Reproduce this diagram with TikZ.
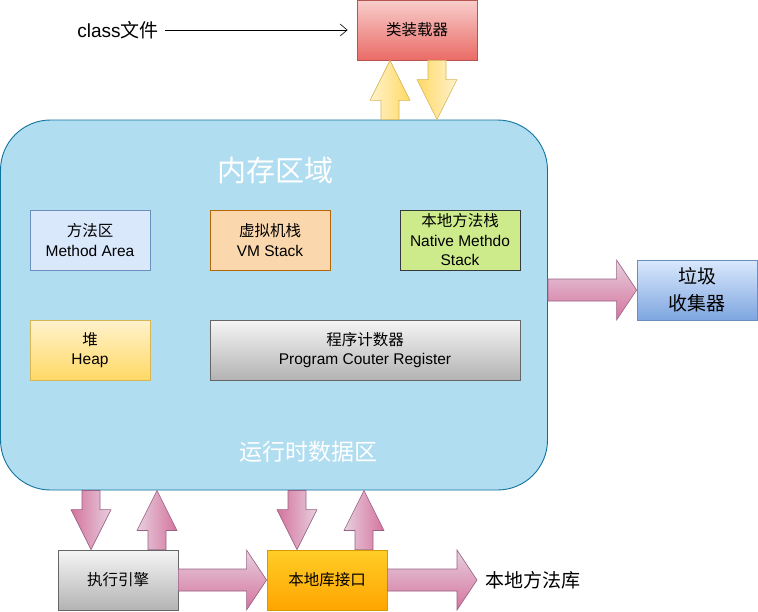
\documentclass[tikz,border=0pt]{standalone}
\usepackage{fontspec}
\setmainfont{Liberation Sans}
\newfontfamily\cjk{Noto Sans CJK SC}
\usetikzlibrary{arrows.meta,positioning,calc}

\newcommand{\zh}[1]{{\cjk #1}}

\definecolor{memfill}{HTML}{B1DDF0}
\definecolor{memline}{HTML}{10739E}
\definecolor{bluefill}{HTML}{DAE8FC}
\definecolor{bluedark}{HTML}{7EA6E0}
\definecolor{blueline}{HTML}{6C8EBF}
\definecolor{orangefill}{HTML}{FAD7AC}
\definecolor{orangeline}{HTML}{B46504}
\definecolor{greenfill}{HTML}{CDEB8B}
\definecolor{greenline}{HTML}{36393D}
\definecolor{yellowlight}{HTML}{FFF2CC}
\definecolor{yellowdark}{HTML}{FFD966}
\definecolor{yellowline}{HTML}{D6B656}
\definecolor{graylight}{HTML}{F5F5F5}
\definecolor{graydark}{HTML}{B3B3B3}
\definecolor{grayline}{HTML}{666666}
\definecolor{redlight}{HTML}{F8CECC}
\definecolor{reddark}{HTML}{EA6B66}
\definecolor{redline}{HTML}{B85450}
\definecolor{goldlight}{HTML}{FFCD28}
\definecolor{golddark}{HTML}{FFA500}
\definecolor{goldline}{HTML}{D79B00}
\definecolor{pinklight}{HTML}{E6D0DE}
\definecolor{pinkdark}{HTML}{D5739D}
\definecolor{pinkline}{HTML}{996185}

% fat arrow: style, from, to, half body, half head, head length
\newcommand{\blockarrow}[6]{%
  \coordinate (ba-s) at (#2);
  \coordinate (ba-t) at (#3);
  \coordinate (ba-m) at ($(ba-t)!#6!(ba-s)$);
  \path[#1] ($(ba-s)!#4!90:(ba-t)$) -- ($(ba-m)!#4!90:(ba-t)$)
    -- ($(ba-m)!#5!90:(ba-t)$) -- (ba-t) -- ($(ba-m)!#5!-90:(ba-t)$)
    -- ($(ba-m)!#4!-90:(ba-t)$) -- ($(ba-s)!#4!-90:(ba-t)$) -- cycle;
}

\tikzset{
    box/.style={
           rectangle,
           draw, line width=0.8pt,
           minimum width=120pt,
           minimum height=60pt,
           inner sep=2pt,
           align=center,
           font=\fontsize{15.5}{19.5}\selectfont,
           },
    areatitle/.style={
           text=white,
           inner sep=0pt,
           },
    freetext/.style={
           font=\fontsize{19}{21}\selectfont,
           inner sep=2pt,
           },
    pinkdown/.style={left color=pinkdark, right color=pinklight, draw=pinkline, line width=0.6pt},
    pinkup/.style={left color=pinklight, right color=pinkdark, draw=pinkline, line width=0.6pt},
    pinkright/.style={top color=pinklight, bottom color=pinkdark, draw=pinkline, line width=0.6pt},
    yellowdown/.style={left color=yellowdark, right color=yellowlight, draw=yellowline, line width=0.6pt},
    yellowup/.style={left color=yellowlight, right color=yellowdark, draw=yellowline, line width=0.6pt},
}

\begin{document}
\begin{tikzpicture}[x=1pt,y=-1pt]
 \useasboundingbox (0,0) rectangle (758,611);

 % runtime data area
 \node[rectangle, rounded corners=50pt, draw=memline, fill=memfill, line width=0.9pt,
   minimum width=547pt, minimum height=370pt] (mem) at (274,305) {};
 \node[areatitle, font=\cjk\fontsize{29}{31}\selectfont] (memtitle) at (275,171) {内存区域};
 \node[areatitle, font=\cjk\fontsize{23}{25}\selectfont] (rttitle) at (308,452) {运行时数据区};

 % areas inside
 \node[box, fill=bluefill, draw=blueline] (method) at (90,240) {\zh{方法区}\\Method Area};
 \node[box, fill=orangefill, draw=orangeline] (vmstack) at (270,240) {\zh{虚拟机栈}\\VM Stack};
 \node[box, fill=greenfill, draw=greenline] (native) at (460,240) {\zh{本地方法栈}\\Native Methdo\\Stack};
 \node[box, top color=yellowlight, bottom color=yellowdark, draw=yellowline] (heap) at (90,350) {\zh{堆}\\Heap};
 \node[box, top color=graylight, bottom color=graydark, draw=grayline,
   minimum width=310pt] (pc) at (365,350) {\zh{程序计数器}\\Program Couter Register};

 % class loader
 \node[box, top color=redlight, bottom color=reddark, draw=redline] (loader) at (417,30) {\zh{类装载器}};
 \node[freetext] (classtxt) at (118,30) {class\zh{文件}};
 \draw[-{Straight Barb[length=7pt,width=12pt]}, line width=0.6pt,
   shorten <=4pt, shorten >=9pt] (classtxt) -- (loader);

 % garbage collector
 \node[box, top color=bluefill, bottom color=bluedark, draw=blueline,
   font=\fontsize{19}{27}\selectfont] (gc) at (697,290) {\zh{垃圾}\\\zh{收集器}};

 % execution engine and native interface
 \node[box, top color=graylight, bottom color=graydark, draw=grayline] (exec) at (118,580) {\zh{执行引擎}};
 \node[box, top color=goldlight, bottom color=golddark, draw=goldline] (nlib) at (327,580) {\zh{本地库接口}};
 \coordinate (nlibend) at (477,580);
 \node[freetext, right=6pt of nlibend] (nlibtxt) {\zh{本地方法库}};

 % fat arrows
 \blockarrow{yellowup}{mem.north -| 390,0}{loader.south -| 390,0}{9pt}{20pt}{40pt}
 \blockarrow{yellowdown}{loader.south -| 437,0}{mem.north -| 437,0}{9pt}{20pt}{40pt}
 \blockarrow{pinkright}{mem.east |- gc.west}{gc.west}{11pt}{30pt}{20pt}
 \blockarrow{pinkdown}{mem.south -| 91,0}{exec.north -| 91,0}{9pt}{20pt}{40pt}
 \blockarrow{pinkup}{exec.north -| 157,0}{mem.south -| 157,0}{9pt}{20pt}{40pt}
 \blockarrow{pinkdown}{mem.south -| 297,0}{nlib.north -| 297,0}{9pt}{20pt}{40pt}
 \blockarrow{pinkup}{nlib.north -| 364,0}{mem.south -| 364,0}{9pt}{20pt}{40pt}
 \blockarrow{pinkright}{exec.east}{nlib.west}{11pt}{30pt}{20pt}
 \blockarrow{pinkright}{nlib.east}{nlibend}{11pt}{30pt}{20pt}
\end{tikzpicture}
\end{document}
